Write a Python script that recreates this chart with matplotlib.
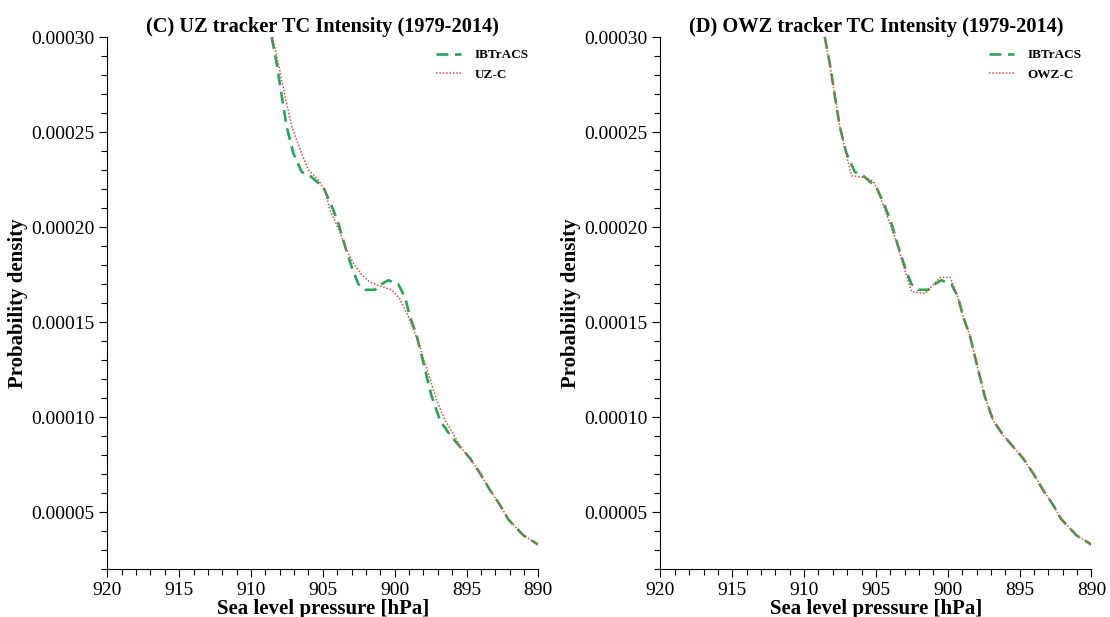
import numpy as np
import matplotlib
matplotlib.use("Agg")
import matplotlib.pyplot as plt
from matplotlib.ticker import MultipleLocator, FormatStrFormatter

plt.rcParams.update({"font.family": ["Liberation Serif", "DejaVu Serif"],
                     "font.size": 14})

# IBTrACS density (shared by both panels)
p_ib = [908.56, 908.21, 907.86, 907.52, 907.06, 906.47, 905.89, 904.97, 904.38,
        903.92, 903.46, 902.99, 902.53, 902.07, 901.37, 900.90, 900.45, 899.75,
        899.28, 898.94, 898.47, 897.89, 897.43, 896.85, 896.15, 895.45, 894.76,
        894.06, 893.37, 892.67, 892.10, 891.04, 890.00]
d_ib = [3.00e-4, 2.86e-4, 2.69e-4, 2.53e-4, 2.39e-4, 2.29e-4, 2.27e-4, 2.21e-4,
        2.11e-4, 2.02e-4, 1.90e-4, 1.79e-4, 1.70e-4, 1.67e-4, 1.67e-4, 1.70e-4,
        1.72e-4, 1.70e-4, 1.63e-4, 1.53e-4, 1.43e-4, 1.25e-4, 1.11e-4, 9.84e-5,
        9.05e-5, 8.44e-5, 7.83e-5, 7.04e-5, 6.16e-5, 5.37e-5, 4.62e-5, 3.77e-5,
        3.28e-5]

# UZ-C
p_uz = [908.50, 908.10, 907.63, 907.17, 906.59, 906.00, 905.32, 904.85, 904.50,
        903.80, 903.34, 902.88, 902.30, 901.72, 901.02, 900.20, 899.63, 899.05,
        898.59, 898.24, 897.66, 897.08, 896.50, 895.80, 895.45, 894.76, 894.06,
        893.37, 892.67, 892.10, 891.04, 890.00]
d_uz = [3.00e-4, 2.86e-4, 2.69e-4, 2.53e-4, 2.41e-4, 2.30e-4, 2.25e-4, 2.19e-4,
        2.09e-4, 1.97e-4, 1.88e-4, 1.81e-4, 1.75e-4, 1.71e-4, 1.69e-4, 1.67e-4,
        1.62e-4, 1.53e-4, 1.44e-4, 1.37e-4, 1.23e-4, 1.09e-4, 9.84e-5, 8.96e-5,
        8.44e-5, 7.83e-5, 7.04e-5, 6.16e-5, 5.37e-5, 4.62e-5, 3.77e-5, 3.28e-5]

# OWZ-C
p_owz = [908.59, 908.21, 907.86, 907.52, 907.06, 906.69, 905.65, 905.18, 904.84,
         904.14, 903.56, 902.98, 902.52, 901.58, 900.53, 899.84, 899.38, 898.94,
         898.47, 897.89, 897.43, 896.85, 896.15, 895.45, 894.76, 894.06, 893.37,
         892.67, 892.10, 891.04, 890.00]
d_owz = [3.00e-4, 2.86e-4, 2.69e-4, 2.53e-4, 2.38e-4, 2.27e-4, 2.26e-4, 2.24e-4,
         2.19e-4, 2.04e-4, 1.92e-4, 1.77e-4, 1.66e-4, 1.65e-4, 1.735e-4, 1.735e-4,
         1.65e-4, 1.53e-4, 1.43e-4, 1.25e-4, 1.11e-4, 9.84e-5, 9.05e-5, 8.44e-5,
         7.83e-5, 7.04e-5, 6.16e-5, 5.37e-5, 4.62e-5, 3.77e-5, 3.28e-5]

titles = ["(C) UZ tracker TC Intensity (1979-2014)",
          "(D) OWZ tracker TC Intensity (1979-2014)"]
model_labels = ["UZ-C", "OWZ-C"]
GREEN = "#1faa55"
RED = "#ff3b3b"

fig = plt.figure(figsize=(11.10, 6.17), dpi=100)
axes = [fig.add_axes([0.0967, 0.0778, 0.3883, 0.862]),
        fig.add_axes([0.5950, 0.0778, 0.3883, 0.862])]

for ax, ttl, lab, (pm, dm) in zip(axes, titles, model_labels,
                                  [(p_uz, d_uz), (p_owz, d_owz)]):
    ax.plot(p_ib, d_ib, color=GREEN, ls=(0, (4.5, 2.5)), lw=1.9, label="IBTrACS")
    ax.plot(pm, dm, color=RED, ls=(0, (1, 1.2)), lw=1.1, label=lab)
    ax.set_xlim(920, 890)
    ax.set_ylim(0.00002, 0.0003)
    ax.xaxis.set_major_locator(MultipleLocator(5))
    ax.xaxis.set_minor_locator(MultipleLocator(1))
    ax.yaxis.set_major_locator(MultipleLocator(0.00005))
    ax.yaxis.set_minor_locator(MultipleLocator(0.00001))
    ax.yaxis.set_major_formatter(FormatStrFormatter("%.5f"))
    ax.tick_params(which="major", length=6, width=0.8, labelsize=14)
    ax.tick_params(which="minor", length=4, width=0.8)
    ax.spines["top"].set_visible(False)
    ax.spines["right"].set_visible(False)
    ax.set_title(ttl, fontsize=14.7, fontweight="bold", pad=4)
    ax.set_xlabel("Sea level pressure [hPa]", fontsize=15, fontweight="bold", labelpad=0)
    ax.set_ylabel("Probability density", fontsize=15, fontweight="bold", labelpad=2)
    ax.legend(loc="upper right", frameon=False, prop={"weight": "bold", "size": 9.5},
              handlelength=1.9, handletextpad=1.0, labelspacing=0.55,
              bbox_to_anchor=(1.005, 1.0))

fig.savefig("out.png", dpi=100)
